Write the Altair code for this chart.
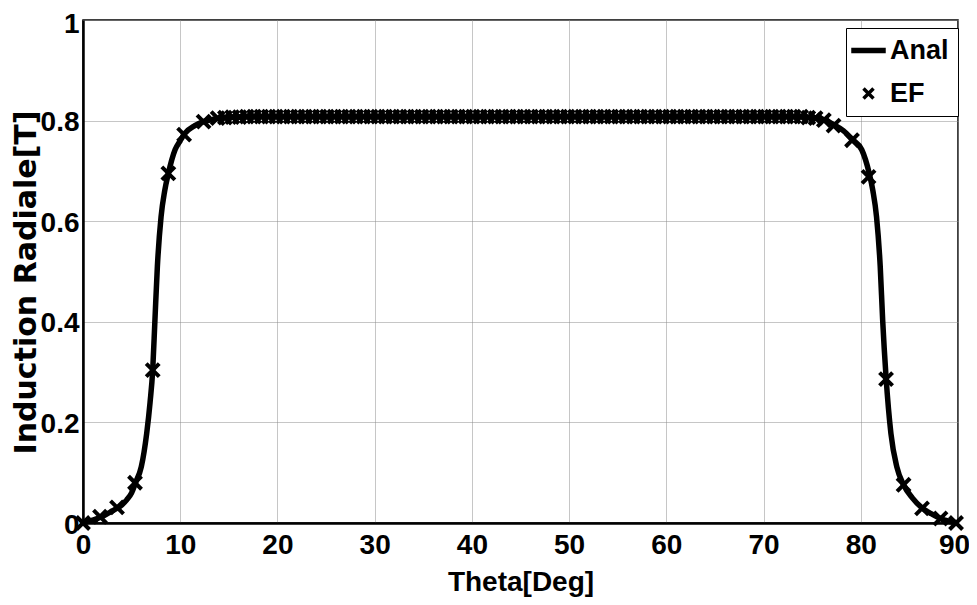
import altair as alt
import pandas as pd

# ---- data ----
anal_x = [0, 1, 2, 3, 4, 4.5, 5, 5.4, 6.0, 6.55, 6.9, 7.17, 7.4, 7.65, 8.03, 8.4, 8.78,
          9.47, 10.0, 10.5, 11.5, 12.4, 13.5, 15, 17, 20, 30, 40, 50, 60, 70, 73, 75,
          76.3, 77.2, 78.2, 79.1, 80.1, 80.87, 81.25, 81.62, 82.0, 82.25, 82.6, 83.1,
          83.7, 84.4, 85.3, 86.3, 87.3, 88.2, 89, 90]
anal_y = [0.0, 0.006, 0.013, 0.024, 0.036, 0.046, 0.06, 0.08, 0.112, 0.178, 0.24, 0.304,
          0.404, 0.51, 0.609, 0.66, 0.695, 0.742, 0.76, 0.775, 0.79, 0.798, 0.803, 0.806,
          0.808, 0.808, 0.808, 0.808, 0.808, 0.808, 0.808, 0.808, 0.806, 0.801, 0.792,
          0.78, 0.763, 0.742, 0.695, 0.66, 0.609, 0.51, 0.404, 0.29, 0.178, 0.112, 0.076,
          0.05, 0.03, 0.018, 0.009, 0.004, 0.0]

ef_x = [0, 1.75, 3.5, 5.35, 7.17, 8.78, 10.4, 12.4, 13.85,
        14.6, 15.35, 16.1, 16.85, 17.6, 18.35, 19.1, 19.85, 20.6, 21.35, 22.1, 22.85,
        23.6, 24.35, 25.1, 25.85, 26.6, 27.35, 28.1, 28.85, 29.6, 30.35, 31.1, 31.85,
        32.6, 33.35, 34.1, 34.85, 35.6, 36.35, 37.1, 37.85, 38.6, 39.35, 40.1, 40.85,
        41.6, 42.35, 43.1, 43.85, 44.6, 45.35, 46.1, 46.85, 47.6, 48.35, 49.1, 49.85,
        50.6, 51.35, 52.1, 52.85, 53.6, 54.35, 55.1, 55.85, 56.6, 57.35, 58.1, 58.85,
        59.6, 60.35, 61.1, 61.85, 62.6, 63.35, 64.1, 64.85, 65.6, 66.35, 67.1, 67.85,
        68.6, 69.35, 70.1, 70.85, 71.6, 72.35, 73.1, 73.85, 74.6, 75.35,
        76.2, 77.2, 79.1, 80.8, 82.6, 84.4, 86.3, 88.2, 89.8]
ef_y = [0.0, 0.0125, 0.031, 0.08, 0.304, 0.695, 0.772, 0.798, 0.805,
        0.806, 0.807, 0.807, 0.808, 0.808, 0.808, 0.808, 0.808, 0.808, 0.808, 0.808, 0.808,
        0.808, 0.808, 0.808, 0.808, 0.808, 0.808, 0.808, 0.808, 0.808, 0.808, 0.808, 0.808,
        0.808, 0.808, 0.808, 0.808, 0.808, 0.808, 0.808, 0.808, 0.808, 0.808, 0.808, 0.808,
        0.808, 0.808, 0.808, 0.808, 0.808, 0.808, 0.808, 0.808, 0.808, 0.808, 0.808, 0.808,
        0.808, 0.808, 0.808, 0.808, 0.808, 0.808, 0.808, 0.808, 0.808, 0.808, 0.808, 0.808,
        0.808, 0.808, 0.808, 0.808, 0.808, 0.808, 0.808, 0.808, 0.808, 0.808, 0.808, 0.808,
        0.808, 0.808, 0.808, 0.808, 0.808, 0.808, 0.808, 0.808, 0.806, 0.805,
        0.801, 0.79, 0.761, 0.688, 0.286, 0.076, 0.029, 0.009, 0.0]

series_names = ["Anal", "EF"]
x_ticks = [0, 10, 20, 30, 40, 50, 60, 70, 80, 90]
y_ticks = [0, 0.2, 0.4, 0.6, 0.8, 1]

anal = pd.DataFrame({"theta": anal_x, "b": anal_y, "series": series_names[0]})
ef = pd.DataFrame({"theta": ef_x, "b": ef_y, "series": series_names[1]})

LAB = "'Liberation Sans', Arial, sans-serif"
WIDE = "'DejaVu Sans', sans-serif"

BAR = "M-1.55,-0.1H1.55V0.1H-1.55Z"
XM = "M-0.5,-0.5L0.5,0.5M0.5,-0.5L-0.5,0.5"

x_enc = alt.X("theta:Q", scale=alt.Scale(domain=[0, 90], nice=False),
              axis=alt.Axis(values=x_ticks, title="Theta[Deg]", labelPadding=8,
                            labelFlush=False,
                            labelOffset={"condition": {"test": "datum.value == 90", "value": -4},
                                         "value": 0},
                            titleFont=LAB, titleFontSize=28,
                            titleBaseline="alphabetic", titleY=67))
y_enc = alt.Y("b:Q", scale=alt.Scale(domain=[0, 1], nice=False),
              axis=alt.Axis(values=y_ticks, format="~g", title="Induction Radiale[T]",
                            labelPadding=4, labelFlush=False,
                            labelOffset={"condition": {"test": "datum.value == 1", "value": 4},
                                         "value": 2},
                            titleFont=WIDE, titleFontSize=30, titleBaseline="alphabetic",
                            titleX=-48, titleY=262, titleAlign="center", titleAngle=270))

line = alt.Chart(anal).mark_line(
    color="black", strokeWidth=5.5, interpolate="monotone"
).encode(x=x_enc, y=y_enc)

pts = alt.Chart(ef).mark_point(
    filled=False, color="black", strokeWidth=4, size=680, opacity=1
).encode(
    x="theta:Q",
    y="b:Q",
    shape=alt.Shape(
        "series:N",
        scale=alt.Scale(domain=series_names, range=[BAR, XM]),
        legend=alt.Legend(
            title=None, orient="none", legendX=763, legendY=8,
            symbolSize=400, symbolStrokeWidth=3.5, symbolStrokeColor="black",
            labelFont=LAB, labelFontSize=27, labelFontWeight="bold",
            labelColor="black", labelOffset=8, rowPadding=15, padding=9,
            strokeColor="black", fillColor="white",
        ),
    ),
)

chart = alt.layer(line, pts).properties(
    width=875, height=503,
    autosize=alt.AutoSizeParams(type="none"),
    padding={"left": 75, "top": 12, "right": 11, "bottom": 78},
).configure_view(
    stroke="black", strokeWidth=1.5
).configure_axis(
    domainColor="black", domainWidth=2.5, ticks=False,
    gridColor="#8c8c8c", gridWidth=1, gridDash=[1, 1],
    labelFont=LAB, labelFontSize=28, labelFontWeight="bold", labelColor="black",
    titleFontWeight="bold", titleColor="black",
)

chart.save("out.html", embed_options={"renderer": "svg", "actions": False})
